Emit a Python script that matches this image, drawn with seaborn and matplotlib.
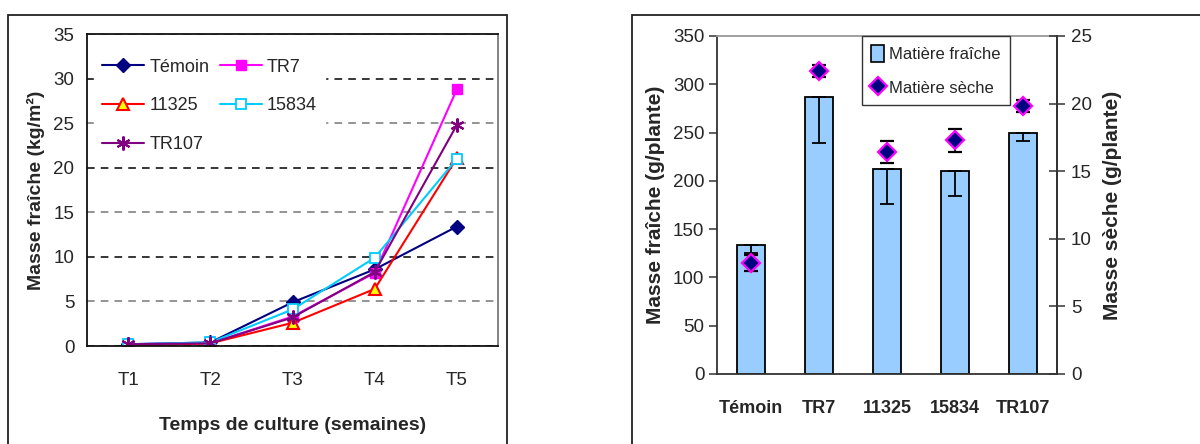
import matplotlib.pyplot as plt
import matplotlib.patches as mpatches
from matplotlib.lines import Line2D
import numpy as np
import seaborn as sns

sns.set_style('white')
plt.rcParams['font.family'] = ['Liberation Sans', 'DejaVu Sans']

# Left chart data: fresh mass per week (kg/m²)
weeks = ['T1', 'T2', 'T3', 'T4', 'T5']
temoin = [0.2, 0.4, 4.9, 8.6, 13.4]
tr7 = [0.2, 0.3, 3.3, 8.2, 28.8]
s11325 = [0.0, 0.3, 2.6, 6.4, 21.1]
s15834 = [0.2, 0.4, 4.1, 9.9, 21.0]
tr107 = [0.2, 0.3, 3.2, 8.3, 24.8]

# Right chart data: fresh / dry mass per plant (g/plante)
strains = ['Témoin', 'TR7', '11325', '15834', 'TR107']
fresh = [134, 287, 212, 210, 250]
fresh_err = [9, 48, 36, 26, 9]
dry = [8.2, 22.4, 16.4, 17.3, 19.8]
dry_err = [0.6, 0.45, 0.8, 0.85, 0.45]

fig = plt.figure(figsize=(12, 4.44), dpi=100)

# outer frames of the two panels
fig.patches.append(mpatches.Rectangle((8 / 1200, -0.1), 499 / 1200, 1 - 15 / 444 + 0.1,
                                      transform=fig.transFigure, fill=False,
                                      edgecolor='#222222', lw=1.3))
fig.patches.append(mpatches.Rectangle((632 / 1200, -0.1), 0.5, 1 - 15 / 444 + 0.1,
                                      transform=fig.transFigure, fill=False,
                                      edgecolor='#222222', lw=1.3))

# ---------------- left: line chart ----------------
ax = fig.add_axes([0.0725, 0.2207, 0.3425, 0.7027])
x = np.arange(len(weeks))
series = [
    ('Témoin', temoin, dict(color='#000080', marker='D', ms=7, mfc='#000080', mec='#000080')),
    ('TR7', tr7, dict(color='#FF00FF', marker='s', ms=7, mfc='#FF00FF', mec='#FF00FF')),
    ('11325', s11325, dict(color='#FF0000', marker='^', ms=9, mfc='#FFFF00', mec='#FF0000', mew=1.5)),
    ('15834', s15834, dict(color='#00CCFF', marker='s', ms=7, mfc='white', mec='#00CCFF', mew=1.3)),
    ('TR107', tr107, dict(color='#800080', marker=(6, 2, 0), ms=10, mec='#800080', mew=1.5)),
]
handles = {}
for name, vals, st in series:
    sns.lineplot(x=x, y=vals, ax=ax, color=st['color'], lw=1.5, marker=st['marker'],
                 markersize=st['ms'], markerfacecolor=st.get('mfc', st['color']),
                 markeredgecolor=st['mec'], markeredgewidth=st.get('mew', 1))
    handles[name] = ax.lines[-1]

ax.set_xlim(-0.5, 4.5)
ax.set_ylim(0, 35)
ax.set_yticks(range(0, 36, 5))
ax.set_xticks(np.arange(-0.5, 5, 1))
ax.set_xticklabels([])
ax.set_xticks(x, minor=True)
ax.set_xticklabels(weeks, minor=True, fontsize=13.5)
ax.tick_params(axis='x', which='major', direction='out', length=6, width=1.2, color='#333333')
ax.tick_params(axis='x', which='minor', length=0, pad=19)
ax.tick_params(axis='y', direction='out', length=6, width=1.2, color='#333333', labelsize=13.5, pad=3)
ax.grid(False)
ax.yaxis.grid(True, linestyle=(0, (5, 4)), lw=1.1)
for gl, yv in zip(ax.yaxis.get_gridlines(), range(0, 36, 5)):
    gl.set_color('black' if yv % 10 == 0 else '#777777')
for sp in ax.spines.values():
    sp.set_visible(True)
    sp.set_color('#111111')
    sp.set_linewidth(1.3)
ax.spines['right'].set_color('#777777')
ax.set_ylabel('Masse fraîche (kg/m²)', fontsize=14, fontweight='bold', labelpad=6)
ax.set_xlabel('Temps de culture (semaines)', fontsize=14, fontweight='bold', labelpad=20)

order = ['Témoin', '11325', 'TR107', 'TR7', '15834']
leg = ax.legend([handles[n] for n in order], order, ncol=2, loc='upper left',
                bbox_to_anchor=(0.0, 0.97), fontsize=13, frameon=True, fancybox=False,
                facecolor='white', edgecolor='white', framealpha=1,
                handlelength=2.3, labelspacing=1.2, columnspacing=0.6,
                handletextpad=0.3, borderpad=0.45, borderaxespad=0.4)

# ---------------- right: bars + diamonds ----------------
bx = fig.add_axes([0.5975, 0.1577, 0.2833, 0.7613])
sns.barplot(x=strains, y=fresh, ax=bx, color='#99CCFF', saturation=1,
            edgecolor='black', linewidth=1.3, width=0.41)
pos = np.arange(len(strains))
bx.errorbar(pos, fresh, yerr=[fresh_err, [0] * len(fresh)], fmt='none',
            ecolor='black', elinewidth=1.3, capsize=5, capthick=1.3)
bx.set_xlim(-0.5, 4.5)
bx.set_ylim(0, 350)
bx.set_yticks(range(0, 351, 50))
bx.set_xticks(np.arange(-0.5, 5, 1))
bx.set_xticklabels([])
bx.set_xticks(pos, minor=True)
bx.set_xticklabels(strains, minor=True, fontsize=13, fontweight='bold')
bx.tick_params(axis='x', which='major', direction='inout', length=12, width=1.1, color='#333333')
bx.tick_params(axis='x', which='minor', length=0, pad=19)
bx.tick_params(axis='y', direction='out', length=6, width=1.1, color='#333333',
               labelsize=13.5, pad=3)
bx.set_xlabel('')
bx.set_ylabel('Masse fraîche (g/plante)', fontsize=15, fontweight='bold', labelpad=6)
for sp in bx.spines.values():
    sp.set_visible(True)
    sp.set_color('#333333')
    sp.set_linewidth(1.3)
bx.spines['top'].set_color('#999999')

bx2 = bx.twinx()
bx2.errorbar(pos, dry, yerr=dry_err, fmt='D', ms=9, mfc='#000080', mec='#FF00FF', mew=1.6,
             ecolor='black', elinewidth=1.3, capsize=5, capthick=1.3)
bx2.set_ylim(0, 25)
bx2.set_yticks(range(0, 26, 5))
bx2.tick_params(axis='y', direction='inout', length=12, width=1.1, color='#333333',
                labelsize=13.5, pad=4)
bx2.set_ylabel('Masse sèche (g/plante)', fontsize=15, fontweight='bold', labelpad=8)
for sp in bx2.spines.values():
    sp.set_visible(False)
bx2.spines['right'].set_visible(True)
bx2.spines['right'].set_color('#333333')
bx2.spines['right'].set_linewidth(1.3)

leg_handles = [mpatches.Patch(facecolor='#99CCFF', edgecolor='black', lw=1.2),
               Line2D([], [], ls='none', marker='D', ms=9, mfc='#000080', mec='#FF00FF', mew=1.6)]
bx2.legend(leg_handles, ['Matière fraîche', 'Matière sèche'], loc='upper left',
           bbox_to_anchor=(0.426, 1.0), borderaxespad=0, fancybox=False, framealpha=1,
           edgecolor='#333333', fontsize=12,
           handlelength=0.8, handleheight=1.2, handletextpad=0.3, labelspacing=1.0,
           borderpad=0.55)

fig.savefig('out.png', dpi=100)
